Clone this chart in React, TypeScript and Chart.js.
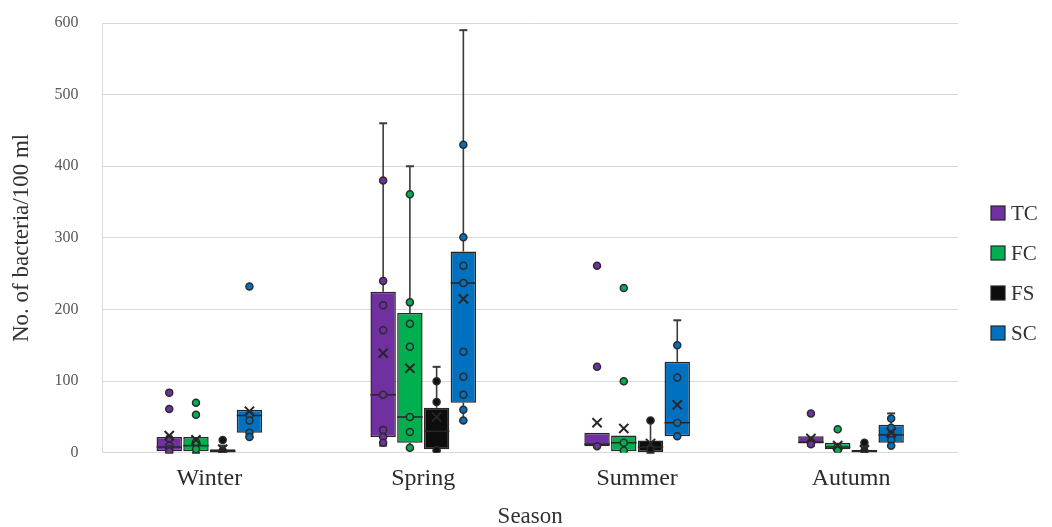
import React, { useEffect, useRef } from "react";
import { Chart, registerables } from "chart.js";

Chart.register(...registerables);

// ---- Categories / series ----
const seasons = ["Winter", "Spring", "Summer", "Autumn"];
const seriesNames = ["TC", "FC", "FS", "SC"];
const seriesColors = ["#7030A0", "#00B050", "#0D0D0D", "#0070C0"];
const yTicks = [0, 100, 200, 300, 400, 500, 600];

// ---- TC (Winter, Spring, Summer, Autumn) ----
const tcQ1 = [2, 22, 9, 13];
const tcQ3 = [22, 225, 28, 23];
const tcMedian = [8, 81, 12, 15];
const tcMean = [24, 139, 42, 20];
const tcLow = [0, 10, 9, 10];
const tcHigh = [22, 460, 28, 23];
const tcPoints = [
  [84, 61, 20, 10, 5, 2],
  [380, 240, 206, 171, 81, 32, 22, 14],
  [261, 120, 9],
  [55, 15, 12],
];

// ---- FC ----
const fcQ1 = [2, 14, 2, 5];
const fcQ3 = [22, 195, 24, 14];
const fcMedian = [10, 50, 14, 8];
const fcMean = [18, 118, 34, 10];
const fcLow = [0, 5, 2, 3];
const fcHigh = [22, 400, 24, 14];
const fcPoints = [
  [70, 53, 15, 5],
  [361, 210, 180, 148, 50, 29, 7],
  [230, 100, 14, 3],
  [33, 8, 4],
];

// ---- FS ----
const fsQ1 = [0, 5, 1, 0];
const fsQ3 = [5, 63, 17, 4];
const fsMedian = [2, 30, 8, 2];
const fsMean = [5, 50, 13, 4];
const fsLow = [0, 2, 0, 0];
const fsHigh = [10, 120, 45, 10];
const fsPoints = [
  [18, 3],
  [100, 71, 4],
  [45, 5],
  [14, 3],
];

// ---- SC ----
const scQ1 = [28, 70, 23, 14];
const scQ3 = [60, 281, 127, 39];
const scMedian = [52, 237, 42, 25];
const scMean = [58, 215, 67, 28];
const scLow = [22, 45, 23, 10];
const scHigh = [60, 590, 185, 55];
const scPoints = [
  [232, 53, 45, 28, 22],
  [430, 301, 261, 237, 141, 106, 81, 60, 45],
  [150, 105, 42, 23],
  [48, 35, 25, 18, 10],
];

const q1s = [tcQ1, fcQ1, fsQ1, scQ1];
const q3s = [tcQ3, fcQ3, fsQ3, scQ3];
const medians = [tcMedian, fcMedian, fsMedian, scMedian];
const means = [tcMean, fcMean, fsMean, scMean];
const lows = [tcLow, fcLow, fsLow, scLow];
const highs = [tcHigh, fcHigh, fsHigh, scHigh];
const pointsAll = [tcPoints, fcPoints, fsPoints, scPoints];

const FONT = "'Liberation Serif', 'Times New Roman', serif";
const GROUP_PCT = 0.5;
const DARK = "#262626";

const boxExtras = {
  id: "boxExtras",
  afterDatasetDraw(chart: any, args: any) {
    const ds: any = chart.data.datasets[args.index];
    if (ds.type !== "bar") return;
    const ctx = chart.ctx;
    const y = chart.scales.y;
    ctx.save();
    args.meta.data.forEach((el: any, j: number) => {
      const x = el.x;
      const half = el.width / 2;
      ctx.strokeStyle = "#3a3a3a";
      const segs = [
        [ds.q3[j], ds.high[j]],
        [ds.q1[j], ds.low[j]],
      ];
      segs.forEach(([from, to]) => {
        if (Math.abs(from - to) < 0.5) return;
        const y0 = y.getPixelForValue(from);
        const y1 = y.getPixelForValue(to);
        ctx.lineWidth = 1.6;
        ctx.beginPath();
        ctx.moveTo(x, y0);
        ctx.lineTo(x, y1);
        ctx.stroke();
        ctx.lineWidth = 2;
        ctx.beginPath();
        ctx.moveTo(x - 4, y1);
        ctx.lineTo(x + 4, y1);
        ctx.stroke();
      });
      const ym = y.getPixelForValue(ds.median[j]);
      ctx.strokeStyle = DARK;
      ctx.lineWidth = 1.5;
      ctx.beginPath();
      ctx.moveTo(x - half, ym);
      ctx.lineTo(x + half, ym);
      ctx.stroke();
    });
    ctx.restore();
  },
  afterDraw(chart: any) {
    const ctx = chart.ctx;
    ctx.save();
    ctx.font = `21px ${FONT}`;
    ctx.textBaseline = "middle";
    ctx.textAlign = "left";
    seriesNames.forEach((name, i) => {
      const cy = 213 + i * 40;
      ctx.fillStyle = seriesColors[i];
      ctx.fillRect(991, cy - 7, 14, 14);
      ctx.strokeStyle = DARK;
      ctx.lineWidth = 1.2;
      ctx.strokeRect(991, cy - 7, 14, 14);
      ctx.fillStyle = "#333333";
      ctx.fillText(name, 1011, cy + 1);
    });
    ctx.restore();
  },
};

export default function App() {
  const ref = useRef<HTMLCanvasElement | null>(null);

  useEffect(() => {
    if (!ref.current) return;
    const offsets = seriesNames.map((_, s) => ((s - 1.5) * GROUP_PCT) / 4);

    const barSets: any[] = seriesNames.map((name, s) => ({
      type: "bar",
      label: name,
      data: seasons.map((_, j) => ({ x: j + offsets[s], y: [q1s[s][j], q3s[s][j]] })),
      backgroundColor: seriesColors[s],
      borderColor: DARK,
      borderWidth: 1.5,
      borderSkipped: false,
      grouped: false,
      categoryPercentage: 1,
      barPercentage: 0.95,
      xAxisID: "x2",
      yAxisID: "y",
      order: 3,
      q1: q1s[s],
      q3: q3s[s],
      median: medians[s],
      low: lows[s],
      high: highs[s],
    }));

    const pointSets: any[] = seriesNames.map((name, s) => ({
      type: "scatter",
      label: name + " points",
      data: seasons.flatMap((_, j) =>
        pointsAll[s][j].map((v) => ({ x: j + offsets[s], y: v }))
      ),
      pointRadius: 3.5,
      pointBackgroundColor: s === 2 ? "#111" : seriesColors[s],
      pointBorderColor: "#2b2b2b",
      pointBorderWidth: 1.5,
      xAxisID: "x2",
      yAxisID: "y",
      order: 2,
    }));

    const meanSets: any[] = seriesNames.map((name, s) => ({
      type: "scatter",
      label: name + " mean",
      data: seasons.map((_, j) => ({ x: j + offsets[s], y: means[s][j] })),
      pointStyle: "crossRot",
      pointRadius: 6.5,
      pointBorderColor: DARK,
      pointBorderWidth: 2,
      xAxisID: "x2",
      yAxisID: "y",
      order: 1,
    }));

    const chart = new Chart(ref.current, {
      type: "bar",
      data: {
        labels: seasons,
        datasets: [...barSets, ...pointSets, ...meanSets],
      },
      options: {
        animation: false,
        responsive: false,
        maintainAspectRatio: false,
        layout: { padding: { left: 0, right: 94, top: 23, bottom: 0 } },
        plugins: {
          legend: { display: false },
          tooltip: { enabled: false },
        },
        scales: {
          x: {
            type: "category",
            offset: true,
            grid: { display: false, drawTicks: false },
            border: { display: false },
            ticks: {
              font: { family: FONT, size: 24 },
              color: "#2b2b2b",
              padding: 12,
            },
            title: {
              display: true,
              text: "Season",
              font: { family: FONT, size: 23, lineHeight: 0.8 },
              color: "#333333",
              padding: { top: 2, bottom: 1 },
            },
          },
          x2: {
            type: "linear",
            display: false,
            offset: false,
            min: -0.5,
            max: seasons.length - 0.5,
          },
          y: {
            min: 0,
            max: 600,
            afterBuildTicks: (axis: any) => {
              axis.ticks = yTicks.map((v) => ({ value: v }));
            },
            grid: {
              color: "#d9d9d9",
              lineWidth: 1,
              drawTicks: true,
              tickLength: 21,
              tickColor: "rgba(0,0,0,0)",
            },
            border: { display: true, color: "#d9d9d9" },
            ticks: {
              font: { family: FONT, size: 16 },
              color: "#595959",
              padding: 3,
            },
            title: {
              display: true,
              text: "No. of bacteria/100 ml",
              font: { family: FONT, size: 23, lineHeight: 0.8 },
              color: "#333333",
              padding: { top: 13, bottom: 20 },
            },
          },
        },
      },
      plugins: [boxExtras],
    } as any);

    return () => chart.destroy();
  }, []);

  return (
    <div style={{ position: "absolute", left: 0, top: 0, width: 1052, height: 527, background: "#fff" }}>
      <canvas ref={ref} width={1052} height={527} style={{ display: "block" }} />
    </div>
  );
}
